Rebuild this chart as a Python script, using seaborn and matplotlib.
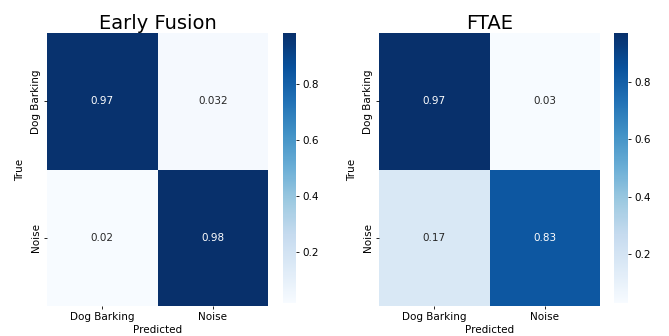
import numpy as np
import pandas as pd
import matplotlib
matplotlib.use("Agg")
import matplotlib.pyplot as plt
import seaborn as sns

classes = ["Dog Barking", "Noise"]
early_fusion = [[0.97, 0.032],
                [0.02, 0.98]]
ftae = [[0.97, 0.03],
        [0.17, 0.83]]
titles = ["Early Fusion", "FTAE"]
cbar_ticks = [0.2, 0.4, 0.6, 0.8]

W, H = 669, 336
fig = plt.figure(figsize=(W / 100, H / 100), dpi=100)


def box(x0, y0, x1, y1):
    return [x0 / W, 1 - y1 / H, (x1 - x0) / W, (y1 - y0) / H]


layouts = [
    (box(47, 33, 268, 306), box(283, 33, 296, 303)),
    (box(379, 33, 600, 306), box(614, 33, 628, 303)),
]

for (hm_box, cb_box), title, mat in zip(layouts, titles, [early_fusion, ftae]):
    ax = fig.add_axes(hm_box)
    cax = fig.add_axes(cb_box)
    df = pd.DataFrame(mat, index=classes, columns=classes)
    sns.heatmap(df, annot=True, cmap="Blues", ax=ax, cbar_ax=cax,
                annot_kws={"fontsize": 7.5})
    ax.set_title(title, fontsize=14, pad=3)
    ax.set_xlabel("Predicted", fontsize=7.5, labelpad=2)
    ax.set_ylabel("True", fontsize=7.5, labelpad=4)
    ax.tick_params(axis="both", labelsize=7.5, length=2.5, width=0.6, pad=2)
    cax.set_yticks(cbar_ticks)
    cax.tick_params(labelsize=7.5, length=2.5, width=0.6, pad=2)
    for sp in cax.spines.values():
        sp.set_visible(False)

fig.savefig("out.png", dpi=100)
